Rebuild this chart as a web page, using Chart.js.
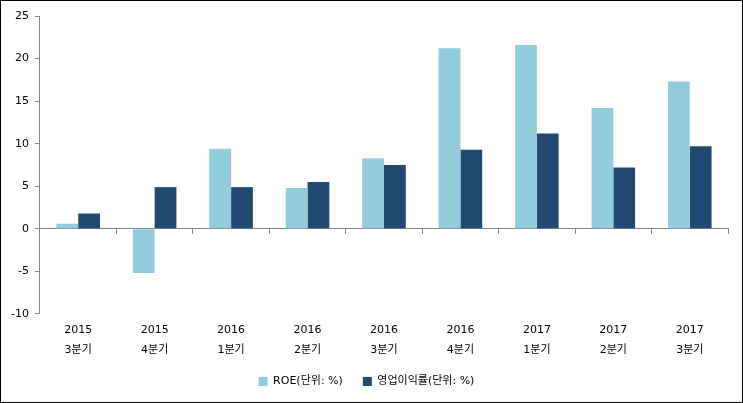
<!DOCTYPE html>
<html>
<head>
<meta charset="utf-8">
<script src="https://cdn.jsdelivr.net/npm/chart.js@4"></script>
<style>
  body { margin: 0; background: #fff; }
  #wrap { width: 743px; height: 403px; box-sizing: border-box; border: 1px solid #000; }
</style>
</head>
<body>
<div id="wrap"><canvas id="myChart" width="741" height="401"></canvas></div>
<script>
const ctx = document.getElementById("myChart");

const labels = [
  ["2015", "3분기"], ["2015", "4분기"], ["2016", "1분기"], ["2016", "2분기"],
  ["2016", "3분기"], ["2016", "4분기"], ["2017", "1분기"], ["2017", "2분기"], ["2017", "3분기"],
];
const roe = [0.6, -5.2, 9.4, 4.8, 8.3, 21.2, 21.6, 14.2, 17.3];
const opMargin = [1.8, 4.9, 4.9, 5.5, 7.5, 9.3, 11.2, 7.2, 9.7];

const axisColor = "#868686";
const font = { family: "DejaVu Sans, 'Noto Sans CJK KR'", size: 11 };

const data = {
  labels: labels,
  datasets: [
    {
      label: "ROE(단위: %)",
      data: roe,
      backgroundColor: "#93CDDD",
      xAxisID: "x",
    },
    {
      label: "영업이익률(단위: %)",
      data: opMargin,
      backgroundColor: "#214A72",
      xAxisID: "x",
    },
  ],
};

const config = {
  type: "bar",
  data: data,
  options: {
    responsive: false,
    animation: false,
    categoryPercentage: 0.57,
    barPercentage: 1,
    layout: { padding: { top: 15, right: 14, left: 4, bottom: 5 } },
    plugins: {
      tooltip: { enabled: false },
      legend: {
        position: "bottom",
        labels: {
          boxWidth: 9,
          boxHeight: 9,
          padding: 20,
          color: "#000",
          font: font,
        },
      },
    },
    scales: {
      x: {
        offset: true,
        grid: { display: false, drawTicks: false },
        border: { display: false },
        ticks: {
          color: "#000",
          font: { ...font, lineHeight: 1.82 },
          padding: 6,
          maxRotation: 0,
        },
        // labels sit closer to the legend than chart.js allows
        afterFit: (scale) => {
          scale.height -= 10;
        },
      },
      x2: {
        type: "category",
        position: { y: 0 },
        offset: true,
        grid: {
          offset: true,
          drawOnChartArea: false,
          drawTicks: true,
          tickLength: 5,
          color: axisColor,
        },
        border: { display: true, color: axisColor, width: 1 },
        ticks: { display: false },
      },
      y: {
        min: -10,
        max: 25,
        ticks: { stepSize: 5, color: "#000", font: font, padding: 6 },
        grid: {
          drawOnChartArea: false,
          drawTicks: true,
          tickLength: 5,
          color: axisColor,
        },
        border: { display: true, color: axisColor },
      },
    },
  },
};

new Chart(ctx, config);
</script>
</body>
</html>
